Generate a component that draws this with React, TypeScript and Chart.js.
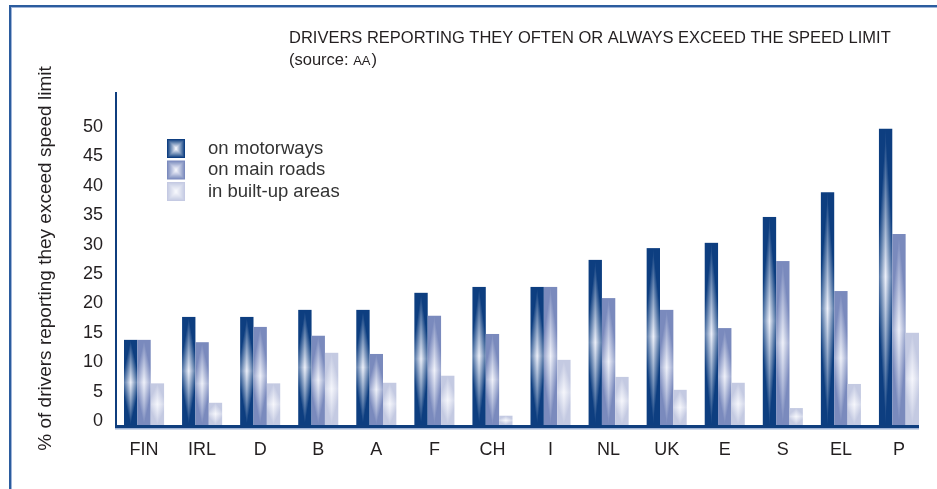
import React, { useEffect, useRef } from "react";
import { Chart, registerables } from "chart.js";

Chart.register(...registerables);

const categories = ["FIN", "IRL", "D", "B", "A", "F", "CH", "I", "NL", "UK", "E", "S", "EL", "P"];
const motorways = [13.8, 17.7, 17.7, 18.9, 18.9, 21.8, 22.8, 22.8, 27.4, 29.4, 30.3, 34.7, 38.9, 49.7];
const mainRoads = [13.8, 13.4, 16.0, 14.5, 11.4, 17.9, 14.8, 22.8, 20.9, 18.9, 15.8, 27.2, 22.1, 31.8];
const builtUp = [6.4, 3.1, 6.4, 11.6, 6.5, 7.7, 0.9, 10.4, 7.5, 5.3, 6.5, 2.2, 6.3, 15.0];
const seriesLabels = ["on motorways", "on main roads", "in built-up areas"];
const yTickValues = [0, 5, 10, 15, 20, 25, 30, 35, 40, 45, 50];
const titleLine1 = "DRIVERS REPORTING THEY OFTEN OR ALWAYS EXCEED THE SPEED LIMIT";
const titleSourcePrefix = "(source: ";
const titleSourceName = "AA";
const titleSourceSuffix = ")";
const yAxisTitle = "% of drivers reporting they exceed speed limit";

const FONT = "'Liberation Sans', Arial, Helvetica, sans-serif";
const TEXT = "#231f20";

// edge colour / centre colour for each series
const edgeColors: number[][] = [
  [13, 62, 128],
  [122, 138, 189],
  [196, 202, 226],
];
const centerColors: number[][] = [
  [238, 241, 250],
  [240, 242, 250],
  [246, 247, 252],
];

function mix(c0: number[], c1: number[], t: number) {
  const k = Math.max(0, Math.min(1, t));
  const r = Math.round(c0[0] + (c1[0] - c0[0]) * k);
  const g = Math.round(c0[1] + (c1[1] - c0[1]) * k);
  const b = Math.round(c0[2] + (c1[2] - c0[2]) * k);
  return `rgb(${r},${g},${b})`;
}

function drawShadedBar(
  ctx: CanvasRenderingContext2D,
  x0: number,
  x1: number,
  top: number,
  bottom: number,
  edge: number[],
  center: number[]
) {
  const w = x1 - x0;
  const h = bottom - top;
  if (w <= 0 || h <= 0) return;
  const cx = (x0 + x1) / 2;
  const side = 0.7;
  for (let i = Math.floor(x0); i < Math.ceil(x1); i++) {
    const l = Math.max(i, x0);
    const r = Math.min(i + 1, x1);
    if (r <= l) continue;
    const dx = Math.abs((l + r) / 2 - cx) / (w / 2);
    const a = Math.min(1, side * dx);
    const g = ctx.createLinearGradient(0, top, 0, bottom);
    g.addColorStop(0, mix(center, edge, 1));
    g.addColorStop(a / 2, mix(center, edge, 1));
    g.addColorStop(0.5, mix(center, edge, a));
    g.addColorStop(1 - a / 2, mix(center, edge, 1));
    g.addColorStop(1, mix(center, edge, 1));
    ctx.fillStyle = g;
    ctx.fillRect(l, top, r - l, h);
  }
}

function drawSquareShade(
  ctx: CanvasRenderingContext2D,
  x: number,
  y: number,
  w: number,
  h: number,
  edge: number[],
  center: number[]
) {
  const steps = 10;
  for (let s = 0; s < steps; s++) {
    const inset = (s * Math.min(w, h)) / 2 / steps;
    ctx.fillStyle = mix(edge, center, s / (steps - 1));
    ctx.fillRect(x + inset, y + inset, w - 2 * inset, h - 2 * inset);
  }
}

const decorPlugin = {
  id: "decor",
  beforeDraw(chart: any) {
    const ctx = chart.ctx as CanvasRenderingContext2D;
    ctx.save();
    ctx.fillStyle = "#ffffff";
    ctx.fillRect(0, 0, chart.width, chart.height);
    // outer frame (top and left)
    ctx.fillStyle = "#2b5c9e";
    ctx.fillRect(9, 5, chart.width - 9, 2);
    ctx.fillRect(9, 5, 2, chart.height - 5);
    ctx.fillStyle = "#9fb4d8";
    ctx.fillRect(11, 7, chart.width - 11, 1);
    ctx.fillRect(11, 7, 1, chart.height - 7);
    ctx.restore();
  },
  afterDatasetsDraw(chart: any) {
    const ctx = chart.ctx as CanvasRenderingContext2D;
    const area = chart.chartArea;
    ctx.save();
    chart.data.datasets.forEach((_: any, di: number) => {
      const meta = chart.getDatasetMeta(di);
      meta.data.forEach((el: any) => {
        const x0 = el.x - el.width / 2;
        const x1 = el.x + el.width / 2;
        drawShadedBar(ctx, x0, x1, el.y, el.base, edgeColors[di], centerColors[di]);
      });
    });

    // axis lines
    const lastMeta = chart.getDatasetMeta(chart.data.datasets.length - 1);
    const lastBar = lastMeta.data[lastMeta.data.length - 1];
    const baseEnd = lastBar.x + lastBar.width / 2;
    ctx.fillStyle = "#0f3e7e";
    ctx.fillRect(area.left, area.top, 2, area.bottom - area.top + 3);
    ctx.fillRect(area.left, area.bottom, baseEnd - area.left, 3);
    ctx.fillStyle = "#9fb3d6";
    ctx.fillRect(area.left, area.bottom + 3, baseEnd - area.left, 1.5);

    // heading
    ctx.fillStyle = TEXT;
    ctx.textBaseline = "middle";
    ctx.textAlign = "left";
    const tx = area.left + 174;
    ctx.font = `16.5px ${FONT}`;
    ctx.fillText(titleLine1, tx, 38);
    ctx.fillText(titleSourcePrefix, tx, 60);
    let px = tx + ctx.measureText(titleSourcePrefix).width;
    ctx.font = `13px ${FONT}`;
    ctx.fillText(titleSourceName, px, 61);
    px += ctx.measureText(titleSourceName).width + 1;
    ctx.font = `16.5px ${FONT}`;
    ctx.fillText(titleSourceSuffix, px, 60);

    // legend
    const lx = area.left + 52;
    const ly = area.top + 47;
    ctx.font = `18.5px ${FONT}`;
    seriesLabels.forEach((lab, i) => {
      const y = ly + i * 21.5;
      drawSquareShade(ctx, lx, y, 18, 19, edgeColors[i], centerColors[i]);
      ctx.fillStyle = "#333333";
      ctx.fillText(lab, lx + 41, y + 9.5);
    });
    ctx.restore();
  },
};

export default function App() {
  const canvasRef = useRef<HTMLCanvasElement | null>(null);

  useEffect(() => {
    if (!canvasRef.current) return;
    const chart = new Chart(canvasRef.current, {
      type: "bar",
      data: {
        labels: categories,
        datasets: [
          { label: seriesLabels[0], data: motorways, backgroundColor: "rgba(0,0,0,0)", base: -0.68 } as any,
          { label: seriesLabels[1], data: mainRoads, backgroundColor: "rgba(0,0,0,0)", base: -0.68 } as any,
          { label: seriesLabels[2], data: builtUp, backgroundColor: "rgba(0,0,0,0)", base: -0.68 } as any,
        ],
      },
      options: {
        responsive: false,
        animation: false,
        devicePixelRatio: 1,
        datasets: { bar: { categoryPercentage: 0.69, barPercentage: 1 } },
        layout: { padding: { left: 10, top: 92, right: 9, bottom: 0 } },
        plugins: {
          legend: { display: false },
          title: { display: false },
          tooltip: { enabled: false },
        },
        scales: {
          x: {
            grid: { display: false, drawTicks: false },
            border: { display: false },
            ticks: {
              font: { family: FONT, size: 18 },
              color: TEXT,
              padding: 14,
              maxRotation: 0,
              autoSkip: false,
            },
            afterFit: (s: any) => {
              s.height = 64;
            },
          },
          y: {
            min: -0.68,
            max: 55.95,
            grid: { display: false, drawTicks: false },
            border: { display: false },
            afterBuildTicks: (s: any) => {
              s.ticks = yTickValues.map((v) => ({ value: v }));
            },
            ticks: {
              font: { family: FONT, size: 18 },
              color: TEXT,
              padding: 12,
            },
            title: {
              display: true,
              text: yAxisTitle,
              font: { family: FONT, size: 19 },
              color: TEXT,
              padding: { top: 24, bottom: 0 },
            },
            afterFit: (s: any) => {
              s.width = 105;
            },
          },
        },
      },
      plugins: [decorPlugin],
    });
    return () => chart.destroy();
  }, []);

  return (
    <div style={{ position: "fixed", left: 0, top: 0, width: 937, height: 489, background: "#fff" }}>
      <canvas ref={canvasRef} width={937} height={489} style={{ display: "block", width: 937, height: 489 }} />
    </div>
  );
}
